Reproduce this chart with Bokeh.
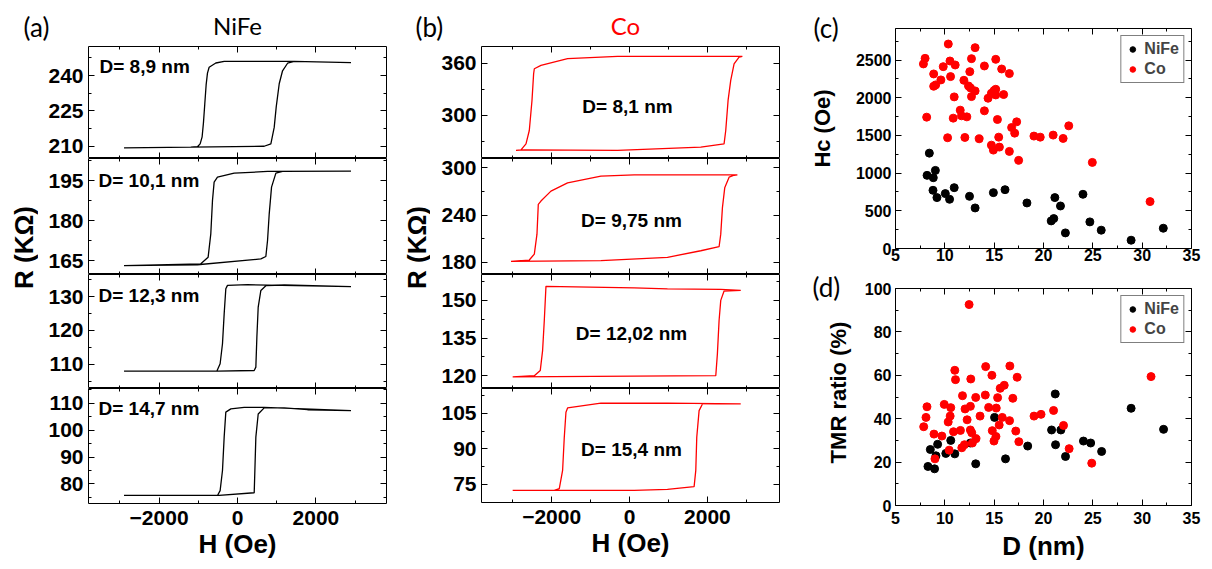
import math
from bokeh.plotting import figure
from bokeh.layouts import row, column
from bokeh.models import Range1d, LinearAxis, Label, FixedTicker, CustomLabelingPolicy
from bokeh.embed import file_html
from bokeh.resources import INLINE

# ---------------- data: hysteresis loops (H in Oe, R in kOhm) ----------------
A1_H = [-2894, -1191, 681, 851, 936, 987, 1064, 1149, 1277, 1447, 2894, 1447, -340, -553, -723, -766, -800, -834, -868, -902, -953, -1021, -1191]
A1_R = [209.3, 209.6, 210.0, 211.0, 218.0, 226.6, 236.5, 242.0, 245.2, 246.0, 245.5, 246.0, 246.0, 245.3, 243.5, 241.0, 236.0, 228.0, 220.0, 214.0, 211.0, 209.8, 209.6]
A2_H = [-2894, -1021, 596, 723, 766, 809, 868, 979, 1149, 2894, 766, -85, -511, -596, -638, -681, -749, -936, -2894]
A2_R = [163.1, 163.4, 165.6, 166.5, 172.5, 182.5, 192.5, 197.75, 198.4, 198.5, 198.4, 197.75, 196.25, 194.4, 187.5, 175.0, 166.25, 163.75, 163.1]
A3_H = [-2894, -511, 426, 468, 494, 528, 596, 723, 1191, 2894, 255, -255, -298, -340, -383, -443, -528]
A3_R = [108.0, 108.0, 108.2, 109.2, 118.0, 126.9, 131.8, 133.2, 133.4, 132.9, 133.5, 133.3, 132.3, 124.9, 116.1, 110.2, 108.0]
A4_H = [-2894, -468, 426, 443, 468, 528, 681, 1191, 1787, 2894, 681, 170, -170, -298, -340, -383, -443, -511]
A4_R = [75.7, 75.7, 76.7, 85.0, 97.4, 106.0, 108.3, 108.3, 107.6, 107.3, 108.5, 108.5, 107.9, 106.7, 97.4, 85.0, 77.5, 75.7]

B1_H = [-2915, -2701, -308, 1829, 2427, 2470, 2530, 2598, 2684, 2812, 2897, -308, -1590, -2274, -2444, -2462, -2504, -2573, -2658, -2786, -2915]
B1_R = [259.9, 260.6, 260.0, 263.7, 267.5, 282.8, 317.2, 340.1, 359.2, 366.9, 367.6, 367.6, 365.0, 357.3, 353.5, 347.8, 317.2, 282.8, 267.5, 260.6, 259.9]
B2_H = [-3043, -735, 974, 1829, 2299, 2342, 2385, 2444, 2556, 2684, 2769, 120, -735, -1590, -2017, -2274, -2342, -2376, -2444, -2573, -3043]
B2_R = [181.3, 182.1, 186.3, 194.7, 199.8, 215.8, 249.5, 274.7, 288.2, 290.7, 291.2, 291.2, 289.5, 281.0, 270.5, 257.9, 253.7, 215.8, 190.5, 182.9, 181.3]
B3_H = [-3000, 2214, 2256, 2299, 2342, 2427, 2855, 2342, 974, 120, -2145, -2188, -2231, -2291, -2444, -3000]
B3_R = [119.5, 120.0, 128.8, 142.0, 150.0, 153.7, 154.0, 154.4, 154.6, 155.0, 155.6, 142.0, 130.1, 122.1, 120.0, 119.5]
B4_H = [-3000, 120, 974, 1658, 1701, 1726, 1786, 1872, 2855, 974, -735, -1590, -1632, -1675, -1718, -1803, -1932]
B4_R = [72.5, 72.5, 72.9, 74.1, 80.9, 94.9, 106.1, 108.9, 108.9, 109.2, 109.2, 107.2, 105.4, 94.9, 80.9, 73.2, 72.5]

A_LABELS = ["D= 8,9 nm", "D= 10,1 nm", "D= 12,3 nm", "D= 14,7 nm"]
B_LABELS = ["D= 8,1 nm", "D= 9,75 nm", "D= 12,02 nm", "D= 15,4 nm"]

A_YRANGES = [(204.8, 252.3), (159.75, 203.25), (102.9, 136.5), (72.7, 115.5)]
A_YTICKS = [[210, 225, 240], [165, 180, 195], [110, 120, 130], [80, 90, 100, 110]]
A_YMINOR = [[217.5, 232.5, 247.5], [172.5, 187.5, 202.5], [105, 115, 125, 135], [75, 85, 95, 105, 115]]
B_YRANGES = [(250.7, 379.0), (164.5, 312.0), (114.9, 160.3), (67.4, 115.4)]
B_YTICKS = [[300, 360], [180, 240, 300], [120, 135, 150], [75, 90, 105]]
B_YMINOR = [[270, 330], [210, 270], [127.5, 142.5, 157.5], [82.5, 97.5, 112.5]]
H_TICKS = [-2000, 0, 2000]
H_MINOR = [-3000, -1000, 1000, 3000]

# ---------------- data: scatter (D in nm) ----------------
NIFE_HC_D = [8.43, 8.2, 8.83, 9.04, 8.8, 9.2, 10.05, 10.48, 10.95, 12.5, 13.07, 14.92, 16.1, 18.32, 20.78, 21.04, 21.15, 21.72, 22.22, 24.0, 24.7, 25.85, 28.88, 32.14]
NIFE_HC = [1265, 970, 939, 1036, 772, 675, 728, 653, 807, 692, 538, 741, 780, 604, 366, 397, 675, 564, 207, 719, 353, 243, 110, 269]
CO_HC_D = [7.83, 8.0, 8.16, 8.87, 8.87, 9.07, 9.6, 9.84, 10.35, 10.28, 10.52, 10.58, 11.05, 10.95, 10.85, 11.56, 11.69, 11.93, 12.03, 12.23, 12.4, 12.53, 12.6, 12.7, 12.7, 13.07, 13.07, 13.48, 14.01, 14.01, 14.38, 14.72, 14.72, 14.92, 14.99, 15.16, 15.16, 15.16, 15.33, 15.46, 15.53, 15.76, 15.96, 16.54, 16.54, 16.77, 17.08, 17.28, 17.48, 19.03, 19.67, 20.98, 21.99, 22.56, 24.95, 30.8]
CO_HC = [2448, 2522, 1742, 2315, 2152, 2170, 2236, 2412, 2712, 1469, 2487, 2280, 2434, 2011, 1729, 1835, 1760, 2231, 1473, 1746, 2156, 2346, 2130, 2518, 2015, 2664, 2090, 1455, 2421, 1826, 1993, 2059, 1371, 1305, 2095, 2509, 2112, 2037, 1711, 1477, 1345, 2381, 2042, 2320, 1288, 1605, 1530, 1680, 1169, 1491, 1477, 1504, 1460, 1627, 1142, 622]
NIFE_TMR_D = [8.29, 8.53, 8.96, 9.1, 9.27, 10.1, 10.6, 11.01, 12.59, 13.13, 15.04, 16.15, 18.4, 20.82, 21.19, 21.22, 21.76, 22.23, 24.05, 24.78, 25.89, 28.88, 32.17]
NIFE_TMR = [18.0, 25.8, 16.9, 22.9, 28.2, 24.0, 30.0, 23.8, 28.8, 19.2, 40.6, 21.5, 27.4, 34.8, 51.4, 28.0, 34.8, 22.6, 29.7, 28.8, 24.9, 44.8, 35.1]
CO_TMR_D = [7.86, 8.09, 8.19, 8.9, 9.0, 9.7, 9.94, 10.34, 10.44, 10.54, 10.6, 10.88, 11.01, 11.08, 11.58, 11.72, 11.79, 11.99, 12.05, 12.26, 12.46, 12.59, 12.63, 12.59, 12.73, 12.79, 13.13, 13.16, 13.57, 14.1, 14.14, 14.44, 14.77, 14.81, 14.98, 15.18, 15.21, 15.35, 15.51, 15.61, 15.82, 16.02, 16.56, 16.59, 16.89, 17.19, 17.33, 17.5, 19.04, 19.75, 21.02, 22.03, 22.6, 24.89, 30.9]
CO_TMR = [36.3, 40.6, 45.5, 32.9, 21.5, 32.0, 46.6, 38.5, 25.5, 41.2, 45.1, 34.0, 62.3, 58.0, 34.6, 26.6, 50.6, 28.0, 44.5, 39.5, 92.6, 45.7, 58.3, 34.8, 33.5, 28.8, 49.8, 30.8, 41.2, 50.9, 64.0, 45.2, 60.0, 34.5, 29.7, 31.8, 44.9, 49.7, 37.1, 54.0, 40.6, 55.4, 39.1, 64.3, 49.4, 34.3, 59.1, 29.4, 41.2, 42.0, 43.8, 36.9, 26.2, 19.5, 59.4]
D_TICKS = [5, 10, 15, 20, 25, 30, 35]
D_MINOR = [7.5, 12.5, 17.5, 22.5, 27.5, 32.5]
HC_TICKS = [0, 500, 1000, 1500, 2000, 2500]
HC_MINOR = [250, 750, 1250, 1750, 2250, 2750]
TMR_TICKS = [0, 20, 40, 60, 80, 100]
TMR_MINOR = [10, 30, 50, 70, 90]

BOLD = "Liberation Sans"
SANS_T = "Lato"
RED = "#ff0000"

NO_LABELS = CustomLabelingPolicy(code="""
    if (typeof indices.unset === "function") {
        const all = [...indices]
        for (const i of all) indices.unset(i)
        return indices
    }
    return new Set()
""")


def make_fig(fw, fh, xr, yr, left, right, top, bottom):
    p = figure(width=left + fw + right, height=top + fh + bottom,
               x_range=Range1d(*xr), y_range=Range1d(*yr),
               toolbar_location=None, output_backend="svg",
               min_border_left=left, min_border_right=right,
               min_border_top=top, min_border_bottom=bottom)
    p.xgrid.visible = False
    p.ygrid.visible = False
    p.outline_line_color = "black"
    p.outline_line_alpha = 1.0
    p.outline_line_width = 1
    p.background_fill_color = "white"
    p.border_fill_color = "white"
    return p


def style_axis(ax, ticks, minor, show, fs="20px", standoff=5):
    ax.ticker = FixedTicker(ticks=ticks, minor_ticks=minor)
    ax.axis_line_color = None
    ax.major_tick_in = 6
    ax.major_tick_out = 0
    ax.minor_tick_in = 3
    ax.minor_tick_out = 0
    ax.major_tick_line_color = "black"
    ax.minor_tick_line_color = "black"
    if show:
        ax.major_label_text_font = BOLD
        ax.major_label_text_font_style = "bold"
        ax.major_label_text_font_size = fs
        ax.major_label_text_color = "black"
        ax.major_label_standoff = standoff
    else:
        ax.major_label_text_font_size = "0px"
        ax.major_label_standoff = 0
        ax.major_label_policy = NO_LABELS


def setup_axes(p, xt, xm, yt, ym, show_x, show_y, fs, xstand=5, ystand=5):
    bottom_ax = p.below[0]
    left_ax = p.left[0]
    style_axis(bottom_ax, xt, xm, show_x, fs, xstand)
    style_axis(left_ax, yt, ym, show_y, fs, ystand)
    top = LinearAxis()
    style_axis(top, xt, xm, False)
    p.add_layout(top, "above")
    right = LinearAxis()
    style_axis(right, yt, ym, False)
    p.add_layout(right, "right")
    return bottom_ax, left_ax


def set_axis_label(ax, text, size, standoff):
    ax.axis_label = text
    ax.axis_label_text_font = BOLD
    ax.axis_label_text_font_style = "bold"
    ax.axis_label_text_font_size = size
    ax.axis_label_text_color = "black"
    ax.axis_label_standoff = standoff


def add_label(p, text, x, y, size, font=BOLD, style="bold", color="black",
              align="left", baseline="middle", angle=0.0):
    p.add_layout(Label(x=x, y=y, x_units="screen", y_units="screen", text=text,
                       text_font=font, text_font_style=style, text_font_size=size,
                       text_color=color, text_align=align, text_baseline=baseline,
                       angle=angle))


def blank_fig(w, h):
    p = figure(width=w, height=h, x_range=Range1d(0, 1), y_range=Range1d(0, 1),
               toolbar_location=None, output_backend="svg",
               min_border_left=0, min_border_right=0, min_border_top=0, min_border_bottom=0)
    p.axis.visible = False
    p.xgrid.visible = False
    p.ygrid.visible = False
    p.outline_line_color = None
    p.border_fill_color = "white"
    return p


# ---------------- panels (a) / (b) ----------------
FW = 298
FH = [112, 116, 114]


def loop_figs(Hs, Rs, yranges, yticks, yminor, labels, color, left, right, xr,
              lab_positions, label_align, fh_last, bottom_last):
    figs = []
    for i in range(4):
        fh = FH[i] if i < 3 else fh_last
        bottom = bottom_last if i == 3 else 0
        p = make_fig(FW, fh, xr, yranges[i], left, right, 0, bottom)
        bax, _ = setup_axes(p, H_TICKS, H_MINOR, yticks[i], yminor[i], i == 3, True, "21px", 7, 5)
        p.line(Hs[i], Rs[i], line_color=color, line_width=1.3)
        lx, ly = lab_positions[i]
        add_label(p, labels[i], lx, ly, "19px", align=label_align)
        if i == 3:
            set_axis_label(bax, "H (Oe)", "26px", 1)
        figs.append(p)
    return figs


a_figs = loop_figs([A1_H, A2_H, A3_H, A4_H], [A1_R, A2_R, A3_R, A4_R],
                   A_YRANGES, A_YTICKS, A_YMINOR, A_LABELS, "black",
                   50, 14, (-3800, 3800),
                   [(11, 92), (10, 94), (10, 93), (10, 95)], "left", 115, 62)
headA = blank_fig(400, 46)
add_label(headA, "(a)", 23, 20, "26px", font=SANS_T, style="normal")
add_label(headA, "NiFe", 237, 21, "24px", font=SANS_T, style="normal", align="center")
labA = blank_fig(38, 519)
add_label(labA, "R (KΩ)", 23, 318, "26px", align="center", angle=math.pi / 2)
colA = column(headA, row(labA, column(*a_figs)))

b_figs = loop_figs([B1_H, B2_H, B3_H, B4_H], [B1_R, B2_R, B3_R, B4_R],
                   B_YRANGES, B_YTICKS, B_YMINOR, B_LABELS, RED,
                   51, 21, (-3800, 3850),
                   [(146, 52), (150, 54), (150, 55), (150, 53)], "center", 114, 63)
headB = blank_fig(400, 46)
add_label(headB, "(b)", 15, 20, "26px", font=SANS_T, style="normal")
add_label(headB, "Co", 225, 21, "24px", font=SANS_T, style="normal", color=RED, align="center")
labB = blank_fig(30, 519)
add_label(labB, "R (KΩ)", 16, 318, "26px", align="center", angle=math.pi / 2)
colB = column(headB, row(labB, column(*b_figs)))

# ---------------- panel (c) ----------------
pc = make_fig(298, 220, (5, 35), (0, 2918), 41, 13, 28, 20)
setup_axes(pc, D_TICKS, D_MINOR, HC_TICKS, HC_MINOR, True, True, "16px", 0, 4)
pc.scatter(NIFE_HC_D, NIFE_HC, size=8, color="black", legend_label="NiFe")
pc.scatter(CO_HC_D, CO_HC, size=8, color=RED, legend_label="Co")

# ---------------- panel (d) ----------------
pd_ = make_fig(298, 217, (5, 35), (0, 100), 41, 13, 20, 58)
d_bottom, _ = setup_axes(pd_, D_TICKS, D_MINOR, TMR_TICKS, TMR_MINOR, True, True, "16px", 6, 4)
pd_.scatter(NIFE_TMR_D, NIFE_TMR, size=8, color="black", legend_label="NiFe")
pd_.scatter(CO_TMR_D, CO_TMR, size=8, color=RED, legend_label="Co")
set_axis_label(d_bottom, "D (nm)", "26px", 4)

for p in (pc, pd_):
    lg = p.legend[0]
    lg.location = "top_right"
    lg.margin = 7
    lg.border_line_color = "black"
    lg.border_line_width = 1
    lg.label_text_font = BOLD
    lg.label_text_font_style = "bold"
    lg.label_text_font_size = "16px"
    lg.label_height = 18
    lg.glyph_height = 18
    lg.glyph_width = 14
    lg.padding = 4
    lg.spacing = 2
    lg.label_standoff = 5
    lg.background_fill_alpha = 1.0

labC = blank_fig(52, 563)
add_label(labC, "(c)", 13, 536, "26px", font=SANS_T, style="normal")
add_label(labC, "Hc (Oe)", 22, 435, "22px", align="center", angle=math.pi / 2)
add_label(labC, "(d)", 12, 277, "26px", font=SANS_T, style="normal")
add_label(labC, "TMR ratio (%)", 38, 171, "22px", align="center", angle=math.pi / 2)
colC = row(labC, column(pc, pd_))

layout = row(colA, colB, colC)

open("out.html", "w").write(file_html(layout, INLINE))
